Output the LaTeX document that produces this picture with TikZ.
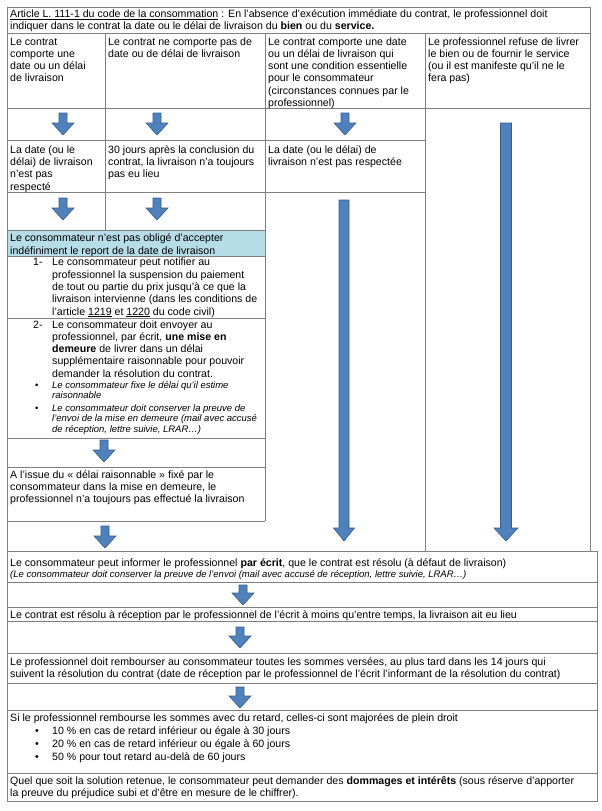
\documentclass[tikz,border=0pt]{standalone}
\usepackage{fontspec}
\setmainfont{Liberation Sans}
\definecolor{gridc}{HTML}{7F7F7F}
\definecolor{arrf}{HTML}{4F81BD}
\definecolor{arrd}{HTML}{385D8A}
\definecolor{hdrblue}{HTML}{B7DDE8}
% x, top, bottom, shaft half width, head half width, head length
\newcommand\blockarr[6]{\filldraw[arrstyle] ({#1-#4},#2) -- ({#1+#4},#2) -- ({#1+#4},{#3-#6}) -- ({#1+#5},{#3-#6}) -- (#1,#3) -- ({#1-#5},{#3-#6}) -- ({#1-#4},{#3-#6}) -- cycle;}
\newcommand\sarr[3]{\blockarr{#1}{#2}{#3}{4}{11}{12}}
\begin{document}
\begin{tikzpicture}[x=1pt,y=-1pt,
  txt/.style={anchor=north west, inner sep=0pt, align=left, yshift=8.54pt, font=\fontsize{10.6}{12.2}\selectfont},
  txtb/.style={anchor=north west, inner sep=0pt, align=left, yshift=8.61pt, font=\fontsize{10.6}{12.3}\selectfont},
  itx/.style={anchor=north west, inner sep=0pt, align=left, yshift=7.42pt, font=\fontsize{9.5}{10.6}\selectfont\itshape},
  grid/.style={draw=gridc, line width=0.8pt},
  arrstyle/.style={fill=arrf, draw=arrd, line width=0.6pt}]
\useasboundingbox (0,0) rectangle (602,811);
\fill[white] (0,0) rectangle (602,811);
% blue header fill
\fill[hdrblue] (7,230) rectangle (265,256);
% grid lines
\draw[grid] (7,551) -- (7,7) -- (590,7) -- (590,551);
\draw[grid] (7,551) rectangle (597,801);
\draw[grid] (7,33) -- (590,33);
\draw[grid] (7,108) -- (590,108);
\draw[grid] (105,33) -- (105,230);
\draw[grid] (265,33) -- (265,521);
\draw[grid] (425,33) -- (425,551);
\draw[grid] (7,140) -- (425,140);
\draw[grid] (7,192) -- (425,192);
\foreach \yy in {230,256,318,438,467,521} {\draw[grid] (7,\yy) -- (265,\yy);}
\foreach \yy in {582,607,621,653,683,710,773} {\draw[grid] (7,\yy) -- (597,\yy);}
% arrows
\sarr{63}{113}{135}
\sarr{157}{113}{135}
\sarr{345}{113}{135}
\sarr{63}{198}{220}
\sarr{157}{198}{220}
\blockarr{344}{200}{541}{5}{10.5}{13}
\blockarr{506}{123}{541}{5.5}{12}{13}
\sarr{104}{440}{462}
\sarr{105}{526}{548}
\sarr{243}{585}{605}
\sarr{240}{627}{648}
\sarr{240}{687}{708}
% texts
\node[txt] (art) at (10,17.5) {\strut\underline{Article L. 111-1 du code de la consommation} : En l'absence d'exécution immédiate du contrat, le professionnel doit\\indiquer dans le contrat la date ou le délai de livraison du \textbf{bien} ou du \textbf{service.}};
\node[txt] (h1) at (10,45) {\strut Le contrat\\comporte une\\date ou un délai\\de livraison};
\node[txt] (h2) at (108,45) {\strut Le contrat ne comporte pas de\\date ou de délai de livraison};
\node[txt] (h3) at (268,45) {\strut Le contrat comporte une date\\ou un délai de livraison qui\\sont une condition essentielle\\pour le consommateur\\(circonstances connues par le\\professionnel)};
\node[txt] (h4) at (428,45) {\strut Le professionnel refuse de livrer\\le bien ou de fournir le service\\(ou il est manifeste qu'il ne le\\fera pas)};
\node[txt] (d1) at (10,153.3) {\strut La date (ou le\\délai) de livraison\\n’est pas\\respecté};
\node[txt] (d2) at (108,153.3) {\strut 30 jours après la conclusion du\\contrat, la livraison n’a toujours\\pas eu lieu};
\node[txt] (d3) at (268,153.3) {\strut La date (ou le délai) de\\livraison n’est pas respectée};
\node[txt] (blue) at (10,241.7) {\strut Le consommateur n’est pas obligé d’accepter\\indéfiniment le report de la date de livraison};
\node[txt] (n1) at (33,265.7) {\strut 1-};
\node[txtb] (i1) at (52,265.7) {\strut Le consommateur peut notifier au\\professionnel la suspension du paiement\\de tout ou partie du prix jusqu’à ce que la\\livraison intervienne (dans les conditions de\\l’article \underline{1219} et \underline{1220} du code civil)};
\node[txt] (n2) at (33,328) {\strut 2-};
\node[txt] (i2) at (52,328) {\strut Le consommateur doit envoyer au\\professionnel, par écrit, \textbf{une mise en}\\\textbf{demeure} de livrer dans un délai\\supplémentaire raisonnable pour pouvoir\\demander la résolution du contrat.};
\node[itx, font=\fontsize{9.5}{10.6}\selectfont] (b1) at (35,388) {\strut •};
\node[itx] (t1) at (52,388) {\strut Le consommateur fixe le délai qu'il estime\\raisonnable};
\node[itx, font=\fontsize{9.5}{10.6}\selectfont] (b2) at (35,411) {\strut •};
\node[itx] (t2) at (52,411) {\strut Le consommateur doit conserver la preuve de\\l'envoi de la mise en demeure (mail avec accusé\\de réception, lettre suivie, LRAR…)};
\node[txt] (issue) at (10,478) {\strut A l’issue du « délai raisonnable » fixé par le\\consommateur dans la mise en demeure, le\\professionnel n’a toujours pas effectué la livraison};
\node[txt] (inf) at (10,566) {\strut Le consommateur peut informer le professionnel \textbf{par écrit}, que le contrat est résolu (à défaut de livraison)};
\node[itx] (infi) at (10,577.5) {\strut (Le consommateur doit conserver la preuve de l'envoi (mail avec accusé de réception, lettre suivie, LRAR…)};
\node[txt] (res) at (10,618) {\strut Le contrat est résolu à réception par le professionnel de l’écrit à moins qu’entre temps, la livraison ait eu lieu};
\node[txt] (remb) at (10,665.5) {\strut Le professionnel doit rembourser au consommateur toutes les sommes versées, au plus tard dans les 14 jours qui\\suivent la résolution du contrat (date de réception par le professionnel de l’écrit l’informant de la résolution du contrat)};
\node[txt] (maj) at (10,721.5) {\strut Si le professionnel rembourse les sommes avec du retard, celles-ci sont majorées de plein droit};
\node[txt] (m1b) at (35,734.3) {\strut •};
\node[txt] (m1) at (52,734.3) {\strut 10 \% en cas de retard inférieur ou égale à 30 jours};
\node[txt] (m2b) at (35,747) {\strut •};
\node[txt] (m2) at (52,747) {\strut 20 \% en cas de retard inférieur ou égale à 60 jours};
\node[txt] (m3b) at (35,759.8) {\strut •};
\node[txt] (m3) at (52,759.8) {\strut 50 \% pour tout retard au-delà de 60 jours};
\node[txt] (quel) at (10,784.5) {\strut Quel que soit la solution retenue, le consommateur peut demander des \textbf{dommages et intérêts} (sous réserve d’apporter\\la preuve du préjudice subi et d’être en mesure de le chiffrer).};
\end{tikzpicture}
\end{document}
